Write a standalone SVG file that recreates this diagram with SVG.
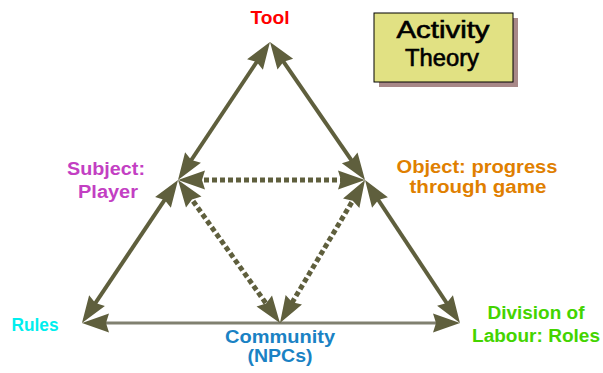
<svg xmlns="http://www.w3.org/2000/svg" width="603" height="373" viewBox="0 0 603 373">
<style>
.t{font-family:"Liberation Sans",Arial,sans-serif;font-weight:bold;font-size:18px;text-anchor:middle}
.ln{fill:none;stroke:#5f5f3d;stroke-width:4;marker-start:url(#ah);marker-end:url(#ah)}
.ds{stroke-width:5;stroke-dasharray:5 3}
.hz{stroke:#808070;stroke-width:3}
.bx{font-family:"Liberation Sans",Arial,sans-serif;font-size:23px;text-anchor:middle;fill:#000;stroke:#000;stroke-width:0.6}
</style>
<defs>
<marker id="ah" markerUnits="userSpaceOnUse" orient="auto-start-reverse" refX="0" refY="0" markerWidth="1" markerHeight="1" overflow="visible">
<path d="M18,0 L-9,-9.5 L-6,0 L-9,9.5 Z" fill="#5f5f3d"/>
</marker>
</defs>
<g id="connectors">
<line class="ln" x1="260" y1="57" x2="188" y2="165"/>
<line class="ln" x1="280.2" y1="56.8" x2="354.8" y2="165.2"/>
<line class="ln" x1="168" y1="194.9" x2="92" y2="308.1"/>
<line class="ln" x1="375" y1="195" x2="450" y2="308"/>
<line class="ln hz" x1="100" y1="323" x2="442" y2="323"/>
<line class="ln ds" x1="196" y1="180" x2="347" y2="180"/>
<line class="ln ds" x1="188.5" y1="194.7" x2="269.5" y2="308.3"/>
<line class="ln ds" x1="355.8" y1="195.5" x2="289.2" y2="307.5"/>
</g>
<g id="title">
<rect x="379" y="18" width="139" height="69" fill="#a88888"/>
<rect x="374" y="13" width="139" height="69" fill="#e1e183" stroke="#000" stroke-width="1"/>
<text class="bx" x="443" y="38" textLength="93" lengthAdjust="spacingAndGlyphs">Activity</text>
<text class="bx" x="442" y="66" textLength="74" lengthAdjust="spacingAndGlyphs">Theory</text>
</g>
<g id="tool"><text class="t" x="270" y="24" fill="#ff0000" textLength="39" lengthAdjust="spacingAndGlyphs">Tool</text></g>
<g id="subject">
<text class="t" x="106" y="175" fill="#c33fc3" textLength="78" lengthAdjust="spacingAndGlyphs">Subject:</text>
<text class="t" x="108" y="198" fill="#c33fc3" textLength="60" lengthAdjust="spacingAndGlyphs">Player</text>
</g>
<g id="object">
<text class="t" x="477" y="173" fill="#e07f00" textLength="161" lengthAdjust="spacingAndGlyphs">Object: progress</text>
<text class="t" x="478" y="193" fill="#e07f00" textLength="137" lengthAdjust="spacingAndGlyphs">through game</text>
</g>
<g id="rules"><text class="t" x="35" y="331" fill="#00eeee" textLength="47" lengthAdjust="spacingAndGlyphs">Rules</text></g>
<g id="community">
<text class="t" x="280" y="343" fill="#1a82c4" textLength="110" lengthAdjust="spacingAndGlyphs">Community</text>
<text class="t" x="280" y="362" fill="#1a82c4" textLength="65" lengthAdjust="spacingAndGlyphs">(NPCs)</text>
</g>
<g id="division">
<text class="t" x="536" y="319" fill="#44d400" textLength="97" lengthAdjust="spacingAndGlyphs">Division of</text>
<text class="t" x="536" y="342" fill="#44d400" textLength="128" lengthAdjust="spacingAndGlyphs">Labour: Roles</text>
</g>
</svg>
